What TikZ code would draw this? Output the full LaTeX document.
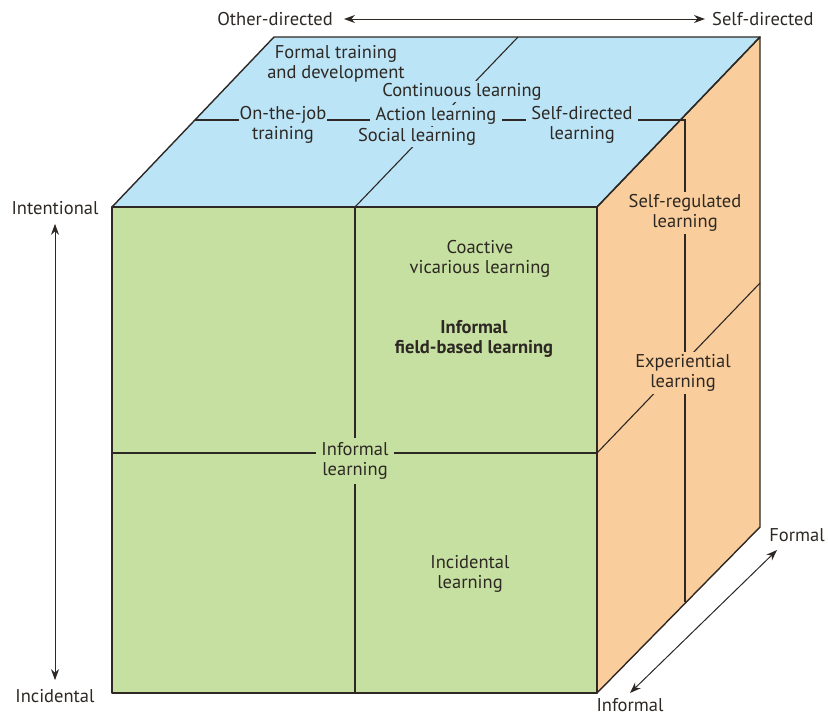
\documentclass[tikz,border=0pt]{standalone}
\usepackage{fontspec}
\setmainfont{PT Sans}
\usetikzlibrary{arrows.meta}
\definecolor{topc}{RGB}{187,228,247}
\definecolor{frontc}{RGB}{198,224,161}
\definecolor{sidec}{RGB}{250,205,156}
\definecolor{linec}{RGB}{45,40,35}
\begin{document}
\begin{tikzpicture}[x=1pt,y=-1pt,
  face/.style={draw=linec,line width=1.4pt,line join=round},
  inner/.style={draw=linec,line width=1.1pt},
  lab/.style={font=\fontsize{18.5}{19.5}\selectfont,align=center,inner xsep=3pt,inner ysep=1.5pt,text=linec},
  axlab/.style={font=\fontsize{18.5}{19.5}\selectfont,inner sep=1pt,text=linec},
  axarrow/.style={draw=linec,line width=1pt,{Stealth[length=11pt,width=8pt]}-{Stealth[length=11pt,width=8pt]}}]
\useasboundingbox (0,0) rectangle (828,716);
% corners
\coordinate (FTL) at (112,207);
\coordinate (FTR) at (597,207);
\coordinate (FBL) at (112,693);
\coordinate (FBR) at (597,693);
\coordinate (BTL) at (274,37);
\coordinate (BTR) at (760,37);
\coordinate (BBR) at (760,527);
% faces
\fill[topc] (FTL) -- (BTL) -- (BTR) -- (FTR) -- cycle;
\fill[sidec] (FTR) -- (BTR) -- (BBR) -- (FBR) -- cycle;
\fill[frontc] (FTL) -- (FTR) -- (FBR) -- (FBL) -- cycle;
% inner lines
\coordinate (FM1) at (355,207);
\coordinate (FM2) at (355,693);
\coordinate (FH1) at (112,453);
\coordinate (FH2) at (597,453);
\coordinate (TM2) at (518,37);
\coordinate (TH1) at (195,120);
\coordinate (TH2) at (685,120);
\coordinate (SV2) at (685,602);
\coordinate (SH2) at (760,283);
\draw[inner] (FM1) -- (FM2);
\draw[inner] (FH1) -- (FH2);
\draw[inner] (FM1) -- (TM2);
\draw[inner] (TH1) -- (TH2) -- (SV2);
\draw[inner] (FH2) -- (SH2);
% outlines
\draw[face] (FTL) -- (BTL) -- (BTR) -- (FTR) -- cycle;
\draw[face] (FTR) -- (BTR) -- (BBR) -- (FBR) -- cycle;
\draw[face] (FTL) -- (FTR) -- (FBR) -- (FBL) -- cycle;
% top labels
\node[lab] (ftd) at (336,64) {Formal training\\and development};
\node[lab,fill=topc,inner xsep=1pt] (ojt) at (283,125) {On-the-job\\training};
\node[lab,fill=topc] (cont) at (462,91.5) {Continuous learning};
\node[lab,fill=topc,inner xsep=6pt] (act) at (436,115.5) {Action learning};
\node[lab,fill=topc] (soc) at (417,137) {Social learning};
\node[lab,fill=topc,inner xsep=5pt] (sdl) at (582,125) {Self-directed\\learning};
% front labels
\node[lab] (cvl) at (480,259) {Coactive\\vicarious learning};
\node[lab,font=\fontsize{18.5}{19.5}\selectfont\bfseries] (ifb) at (474,339) {Informal\\field-based learning};
\node[lab,fill=frontc,inner xsep=5pt,inner ysep=5pt] (inl) at (355,461) {Informal\\learning};
\node[lab] (incl) at (470,574) {Incidental\\learning};
% side labels
\node[lab,fill=sidec,inner ysep=3pt] (srl) at (685,213) {Self-regulated\\learning};
\node[lab,fill=sidec,inner ysep=3pt] (exl) at (683,373) {Experiential\\learning};
% axes
\node[axlab,anchor=east] (od) at (334,19) {Other-directed};
\node[axlab,anchor=west] (sd) at (711,19) {Self-directed};
\draw[axarrow] ([xshift=10pt]od.east) -- ([xshift=-6pt]sd.west);
\node[axlab] (int) at (55,208) {Intentional};
\node[axlab] (inc) at (55,696) {Incidental};
\draw[axarrow] ([yshift=-8pt]int.south) -- ([yshift=8pt]inc.north);
\node[axlab] (fo) at (797,535) {Formal};
\node[axlab] (info) at (630,705) {Informal};
\coordinate (dA) at (630,693);
\coordinate (dB) at (777,550);
\draw[axarrow] (dA) -- (dB);
\end{tikzpicture}
\end{document}
